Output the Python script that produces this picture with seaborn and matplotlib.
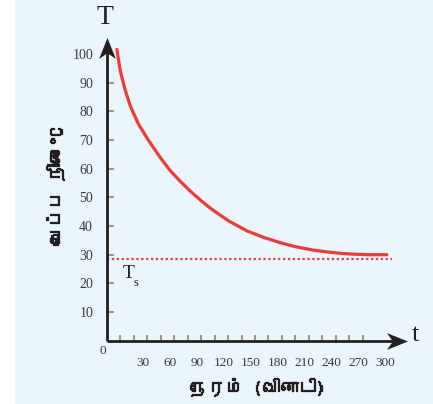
import matplotlib
matplotlib.use("Agg")
import matplotlib.pyplot as plt
import matplotlib.patheffects as pe
import seaborn as sns
import pandas as pd
from matplotlib import font_manager
from matplotlib.ft2font import FT2Font
from matplotlib.patches import Rectangle

# values
time_s = [1, 3, 5, 10, 16, 25, 36, 48, 60, 71, 82, 95, 107, 125, 146, 165, 183,
          200, 220, 240, 257, 280, 302]
temp_c = [101.6, 97.6, 93.8, 87.7, 81.8, 75.6, 70.0, 64.5, 59.5, 55.8, 52.4, 48.8,
          45.8, 41.9, 38.3, 36.0, 34.2, 32.8, 31.6, 30.8, 30.3, 30.0, 30.0]
room_temp = 28.4
x_ticks = [30, 60, 90, 120, 150, 180, 210, 240, 270, 300]
x_minor = [5 + 15 * i for i in range(19)]
y_ticks = [10, 20, 30, 40, 50, 60, 70, 80, 90, 100]
y_label = "வெப்ப நிலை°C"
x_label = "நேரம் (வினாடி)"

RED = "#ee3b34"
INK = "#231f20"
TICK = "#9b9b85"
BG = "#eaf5fc"
SERIF = "Liberation Serif"


def tamil_family():
    # find any installed font that has Tamil glyphs
    for f in font_manager.fontManager.ttflist:
        try:
            if 0x0B95 in FT2Font(f.fname).get_charmap():
                return f.name
        except Exception:
            pass
    return "DejaVu Sans"


sns.set_style("white")
plt.rcParams["font.family"] = [SERIF, "DejaVu Sans"]

fig = plt.figure(figsize=(4.33, 4.04), dpi=100)
fig.patch.set_facecolor("white")
fig.patches.append(Rectangle((15 / 433, 0), 1, 1, transform=fig.transFigure,
                             facecolor=BG, edgecolor="none", zorder=-10))

ax = fig.add_axes([107 / 433, 1 - 340.7 / 404, 308 / 433, 309.6 / 404])
ax.set_facecolor("none")
ax.set_xlim(-10.04, 333.4)
ax.set_ylim(0, 108)
for s in ax.spines.values():
    s.set_visible(False)

df = pd.DataFrame({"t": time_s, "T": temp_c})
sns.lineplot(data=df, x="t", y="T", ax=ax, color=RED, lw=2.3, sort=False)
sns.lineplot(x=[-10, 308], y=[room_temp, room_temp], ax=ax, color=RED,
             lw=1.6, linestyle=(0, (1, 1.2)))

# axis lines with stealth arrow heads
up_head = [(0, 0.5), (-0.4, -0.5), (0, -0.22), (0.4, -0.5), (0, 0.5)]
right_head = [(0.5, 0), (-0.5, 0.4), (-0.22, 0), (-0.5, -0.4), (0.5, 0)]
ax.plot([0, 0], [0, 0.95], transform=ax.transAxes, color=INK, lw=2,
        clip_on=False, solid_capstyle="butt")
ax.plot([0, 0.95], [0, 0], transform=ax.transAxes, color=INK, lw=2,
        clip_on=False, solid_capstyle="butt")
ax.plot([0], [0.947], transform=ax.transAxes, marker=up_head, ms=15.1,
        color=INK, mew=0, clip_on=False)
ax.plot([0.943], [0], transform=ax.transAxes, marker=right_head, ms=15.1,
        color=INK, mew=0, clip_on=False)

ax.set_yticks(y_ticks)
ax.set_yticklabels([str(v) for v in y_ticks])
ax.tick_params(axis="y", direction="in", length=5, width=1.5, color=TICK,
               pad=10, labelsize=10, labelcolor="#3a3a3a", left=True)
ax.set_xticks(x_ticks)
ax.set_xticklabels([str(v) for v in x_ticks])
ax.tick_params(axis="x", which="major", length=0, pad=12, labelsize=9.5,
               labelcolor="#3a3a3a", bottom=True)
ax.set_xticks(x_minor, minor=True)
ax.tick_params(axis="x", which="minor", direction="in", length=4, width=1.5,
               color=TICK, bottom=True)
ax.set_xlabel("")
ax.set_ylabel("")

ax.text(-15, -3.5, "0", fontsize=9.5, color="#3a3a3a", ha="center", va="center")
ax.text(-12.5, 112.8, "T", fontsize=20, color=INK, ha="center", va="center")
ax.text(334, 2, "t", fontsize=19, color=INK, ha="center", va="center", clip_on=False)
ax.text(14.5, 23.6, "T", fontsize=14, color=INK, ha="center", va="center")
ax.text(22.3, 20.1, "s", fontsize=9, color=INK, ha="center", va="center")

tam = tamil_family()
bold = [pe.withStroke(linewidth=0.9, foreground=INK)]
fig.text(55 / 433, 1 - 186 / 404, y_label, rotation=90, fontsize=13,
         fontweight="bold", family=[tam, "DejaVu Sans"], color=INK,
         ha="center", va="center", path_effects=bold)
fig.text(257 / 433, 1 - 387 / 404, x_label, fontsize=13, fontweight="bold",
         family=[tam, "DejaVu Sans"], color=INK, ha="center", va="center",
         path_effects=bold)

fig.savefig("out.png", dpi=100)
